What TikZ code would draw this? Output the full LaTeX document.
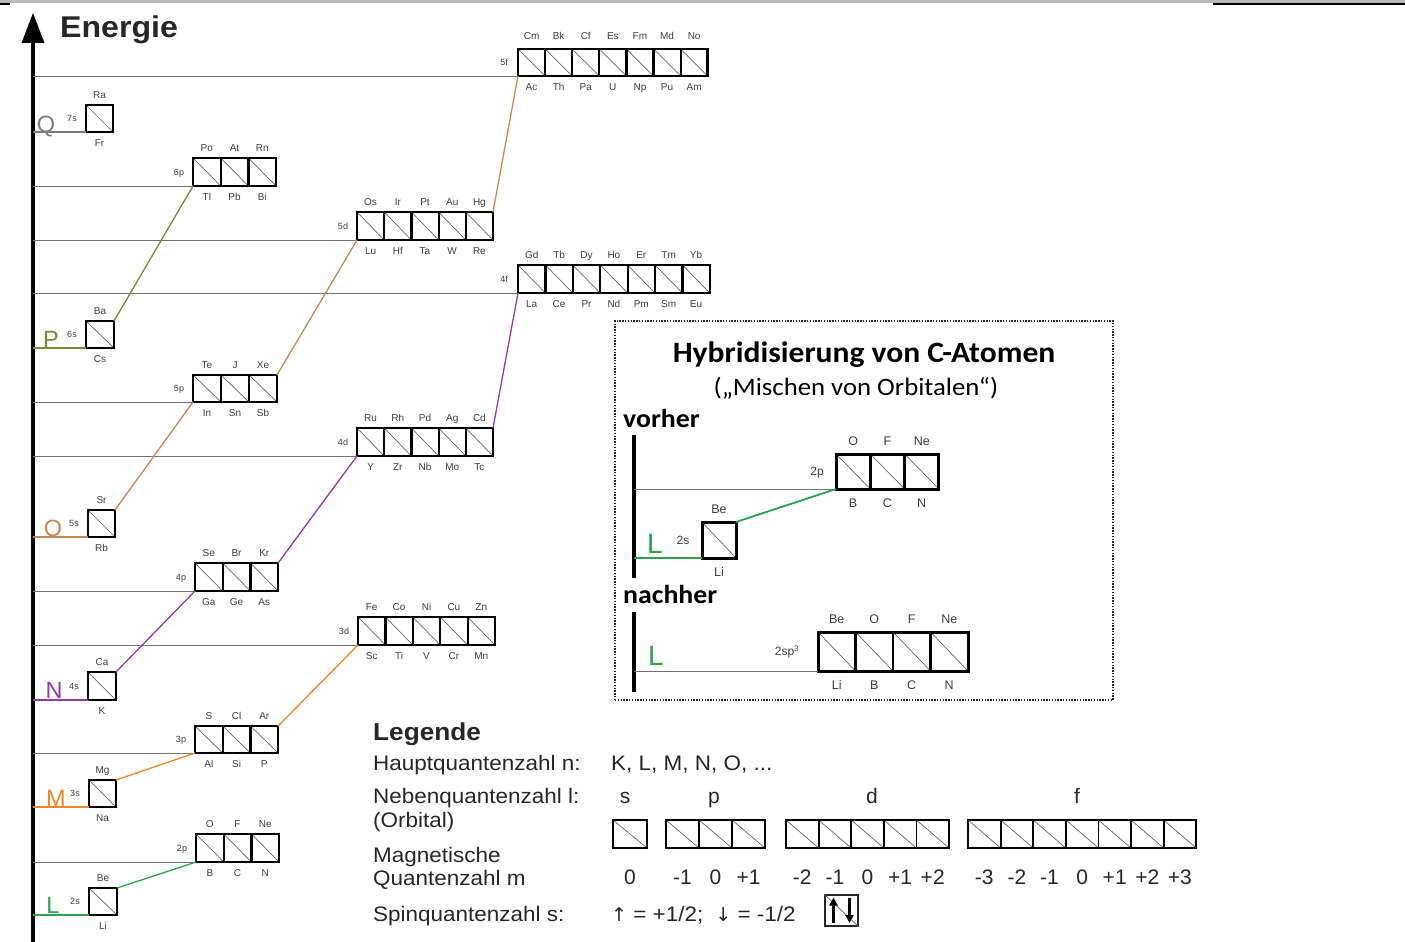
\documentclass[tikz,border=0pt]{standalone}
\usepackage{fontspec}
\setmainfont{Liberation Sans}
\newfontfamily\calib{Carlito}
\newfontfamily\dejavu{DejaVu Sans}
\usetikzlibrary{calc,arrows.meta}
\definecolor{lgreen}{RGB}{45,160,75}
\definecolor{morange}{RGB}{238,135,40}
\definecolor{npurple}{RGB}{145,60,165}
\definecolor{otan}{RGB}{200,135,85}
\definecolor{polive}{RGB}{115,140,45}
\definecolor{qgray}{RGB}{125,125,125}
\definecolor{hgray}{RGB}{185,185,185}
\definecolor{labgray}{RGB}{60,60,60}
\newcommand\wx[1]{\scalebox{1.07}[1]{#1}}
\def\tgap{10.5}\def\bgap{10.5}\def\sgap{14}
\tikzset{
 diag/.style={draw=black!60, line width=0.7pt},
 cellsep/.style={draw=black, line width=2.2pt},
 orbframe/.style={draw=black, line width=2.6pt, inner sep=0pt, outer sep=0pt, rectangle},
 elab/.style={font=\fontsize{10}{12}\selectfont, text=labgray, inner sep=0pt, text height=7.2pt, text depth=0pt},
 slab/.style={font=\fontsize{9}{11}\selectfont, text=labgray, inner sep=0pt, text height=6.5pt, text depth=0pt},
 lvl/.style={draw=black!55, line width=0.8pt},
 conn/.style={line width=1.3pt},
 shell/.style={font=\fontsize{23.5}{26}\selectfont, inner sep=0pt, anchor=base},
 legtxt/.style={font=\fontsize{21}{24}\selectfont, inner sep=0pt, anchor=base west, text=black!85},
 hshell/.style={font=\fontsize{28}{30}\selectfont, inner sep=0pt, anchor=base, text=lgreen},
}
% name, x-left, y-bottom, cells, cell width, height, top labels, bottom labels, side label
\newcommand\orbrow[9]{%
 \foreach \k in {1,...,#4}{\draw[diag] ({#2+(\k-1)*#5},{#3-#6}) -- ({#2+\k*#5},{#3});}
 \ifnum#4>1 \foreach \k in {2,...,#4}{\draw[cellsep] ({#2+(\k-1)*#5},{#3-#6}) -- ({#2+(\k-1)*#5},{#3});}\fi
 \node[orbframe, minimum width={#4*#5}, minimum height={#6}, anchor=south west] (#1) at (#2,#3) {};
 \foreach \lab [count=\k] in {#7}{\node[elab] (#1t\k) at ({#2+(\k-0.5)*#5},{#3-#6-\tgap}) {\lab};}
 \foreach \lab [count=\k] in {#8}{\node[elab] (#1b\k) at ({#2+(\k-0.5)*#5},{#3+\bgap}) {\lab};}
 \node[slab] (#1l) at ({#2-\sgap},{#3-#6/2}) {#9};
}
\begin{document}
\begin{tikzpicture}[x=1pt,y=-1pt]
\useasboundingbox (0,0) rectangle (1405,942);
% header strip
\fill[hgray] (0,0) rectangle (1405,3);
\fill[black] (0,3) rectangle (10,5);
\fill[black] (1213,3) rectangle (1405,5);
% axis
\coordinate (axtop) at (33,40);
\coordinate (axbot) at (33,942);
\draw[line width=3.3pt] (axbot) -- (axtop);
\fill[black] (33,13) -- (21.5,43) -- (44.5,43) -- cycle;
\node[font=\bfseries\fontsize{30}{32}\selectfont, anchor=base west, inner sep=0pt, text=black!85] (energie) at (60,38) {\wx{Energie}};
% axis coordinates of the levels
\foreach \n/\y in {5f/76,7s/132,6p/186,5d/240,4f/293,6s/348,5p/402,4d/456,5s/537,4p/591,3d/645,4s/700,3p/753,3s/807,2p/862,2s/915}{\coordinate (a\n) at (33,\y);}
% orbital boxes
{\def\tgap{13}\orbrow{b5f}{518}{76}{7}{27.1}{27}{Cm,Bk,Cf,Es,Fm,Md,No}{Ac,Th,Pa,U,Np,Pu,Am}{5f}}
\orbrow{b7s}{86}{132}{1}{27}{27}{Ra}{Fr}{7s}
\orbrow{b6p}{193}{186}{3}{27.7}{28}{Po,At,Rn}{Tl,Pb,Bi}{6p}
\orbrow{b5d}{357}{240}{5}{27.2}{28}{Os,Ir,Pt,Au,Hg}{Lu,Hf,Ta,W,Re}{5d}
\orbrow{b4f}{518}{293}{7}{27.4}{28}{Gd,Tb,Dy,Ho,Er,Tm,Yb}{La,Ce,Pr,Nd,Pm,Sm,Eu}{4f}
\orbrow{b6s}{86}{348}{1}{28}{27}{Ba}{Cs}{6s}
\orbrow{b5p}{193}{402}{3}{28}{27}{Te,J,Xe}{In,Sn,Sb}{5p}
\orbrow{b4d}{357}{456}{5}{27.2}{28}{Ru,Rh,Pd,Ag,Cd}{Y,Zr,Nb,Mo,Tc}{4d}
\orbrow{b5s}{88}{537}{1}{27}{27}{Sr}{Rb}{5s}
\orbrow{b4p}{195}{591}{3}{27.7}{28}{Se,Br,Kr}{Ga,Ge,As}{4p}
\orbrow{b3d}{358}{645}{5}{27.4}{28}{Fe,Co,Ni,Cu,Zn}{Sc,Ti,V,Cr,Mn}{3d}
\orbrow{b4s}{88}{700}{1}{28}{28}{Ca}{K}{4s}
\orbrow{b3p}{195}{753}{3}{27.7}{27}{S,Cl,Ar}{Al,Si,P}{3p}
\orbrow{b3s}{89}{807}{1}{27}{27}{Mg}{Na}{3s}
\orbrow{b2p}{196}{862}{3}{27.7}{28}{O,F,Ne}{B,C,N}{2p}
\orbrow{b2s}{89}{915}{1}{28}{27}{Be}{Li}{2s}
% gray level lines to boxes
\foreach \n in {5f,6p,5d,4f,5p,4d,4p,3d,3p,2p}{\draw[lvl] (a\n) -- (b\n.south west);}
% coloured s-levels
\draw[conn, qgray] (a7s) -- (b7s.south west);
\draw[conn, polive] (a6s) -- (b6s.south west);
\draw[conn, otan] (a5s) -- (b5s.south west);
\draw[conn, npurple] (a4s) -- (b4s.south west);
\draw[conn, morange] (a3s) -- (b3s.south west);
\draw[conn, lgreen] (a2s) -- (b2s.south west);
% shell letters
\node[shell, text=qgray] (shQ) at (46,132) {Q};
\node[shell, text=polive] (shP) at (51,347) {P};
\node[shell, text=otan] (shO) at (53,536) {O};
\node[shell, text=npurple] (shN) at (54,698) {N};
\node[shell, text=morange] (shM) at (56,806) {M};
\node[shell, text=lgreen] (shL) at (53,913) {L};
% connectors
\draw[conn, lgreen] (b2s.north east) -- (b2p.south west);
\draw[conn, morange] (b3s.north east) -- (b3p.south west);
\draw[conn, morange] (b3p.north east) -- (b3d.south west);
\draw[conn, npurple] (b4s.north east) -- (b4p.south west);
\draw[conn, npurple] (b4p.north east) -- (b4d.south west);
\draw[conn, npurple] (b4d.north east) -- (b4f.south west);
\draw[conn, otan] (b5s.north east) -- (b5p.south west);
\draw[conn, otan] (b5p.north east) -- (b5d.south west);
\draw[conn, otan] (b5d.north east) -- (b5f.south west);
\draw[conn, polive] (b6s.north east) -- (b6p.south west);
% ---------- Hybridisierung box ----------
\node[draw=black!85, line width=1.4pt, dash pattern=on 1.4pt off 1.4pt, minimum width=498, minimum height=379, inner sep=0pt] (hybox) at (864,510.5) {};
\node[font=\calib\bfseries\fontsize{29.5}{32}\selectfont, anchor=base, inner sep=0pt] (htitle) at (864,362) {\wx{Hybridisierung von C-Atomen}};
\node[font=\calib\fontsize{25}{28}\selectfont, anchor=base, inner sep=0pt] (hsub) at (856,395) {\wx{(„Mischen von Orbitalen“)}};
\node[font=\calib\bfseries\fontsize{26}{30}\selectfont, anchor=base west, inner sep=0pt] (hvor) at (623,427) {\wx{vorher}};
\node[font=\calib\bfseries\fontsize{26}{30}\selectfont, anchor=base west, inner sep=0pt] (hnach) at (623,603) {\wx{nachher}};
\coordinate (hv1t) at (634,435); \coordinate (hv1b) at (634,578);
\coordinate (hv2t) at (634,612); \coordinate (hv2b) at (634,692);
\draw[line width=4pt] (hv1t) -- (hv1b);
\draw[line width=4pt] (hv2t) -- (hv2b);
\coordinate (ha2p) at (634,489); \coordinate (ha2s) at (634,558); \coordinate (ha2sp) at (634,671);
\begin{scope}
\def\tgap{13}\def\bgap{14}\def\sgap{19}
\tikzset{elab/.style={font=\fontsize{12.5}{14}\selectfont, text=labgray, inner sep=0pt, text height=9pt, text depth=0pt},
 slab/.style={font=\fontsize{12}{14}\selectfont, text=labgray, inner sep=0pt, text height=8.6pt, text depth=0pt},
 orbframe/.style={draw=black, line width=3pt, inner sep=0pt, outer sep=0pt, rectangle},
 cellsep/.style={draw=black, line width=2.6pt}}
\orbrow{h2p}{836}{489}{3}{34.3}{35}{O,F,Ne}{B,C,N}{2p}
\orbrow{h2s}{702}{558}{1}{34}{36}{Be}{Li}{2s}
\def\sgap{31}
\orbrow{h2sp}{818}{671}{4}{37.5}{39}{Be,O,F,Ne}{Li,B,C,N}{2sp\textsuperscript{3}}
\end{scope}
\draw[lvl] (ha2p) -- (h2p.south west);
\draw[lvl] (ha2sp) -- (h2sp.south west);
\draw[conn, lgreen, line width=1.8pt] (ha2s) -- (h2s.south west);
\draw[conn, lgreen, line width=1.8pt] (h2s.north east) -- (h2p.south west);
\node[hshell] (hL1) at (655,553) {L};
\node[hshell] (hL2) at (656,665) {L};
% ---------- Legende ----------
\node[font=\bfseries\fontsize{24.5}{28}\selectfont, anchor=base west, inner sep=0pt, text=black!85] (leg) at (373,740) {\wx{Legende}};
\node[legtxt] (lg1) at (373,770) {\wx{Hauptquantenzahl n:}};
\node[legtxt] (lg1v) at (611,770) {\wx{K, L, M, N, O, ...}};
\node[legtxt] (lg2) at (373,803) {\wx{Nebenquantenzahl l:}};
\node[legtxt] (lg3) at (373,827) {\wx{(Orbital)}};
\node[legtxt] (lg4) at (373,862) {\wx{Magnetische}};
\node[legtxt] (lg5) at (373,885) {\wx{Quantenzahl m}};
\node[legtxt] (lg6) at (373,921) {\wx{Spinquantenzahl s:}};
\node[legtxt, anchor=base] (lgs) at (625,803) {s};
\node[legtxt, anchor=base] (lgp) at (714,803) {p};
\node[legtxt, anchor=base] (lgd) at (872,803) {d};
\node[legtxt, anchor=base] (lgf) at (1077,803) {f};
\begin{scope}
\def\bgap{29}
\tikzset{elab/.style={font=\fontsize{21}{24}\selectfont, text=black!85, inner sep=0pt, text height=15pt, text depth=0pt},
 orbframe/.style={draw=black, line width=2pt, inner sep=0pt, outer sep=0pt, rectangle},
 cellsep/.style={draw=black, line width=1.8pt}}
\orbrow{ls}{613}{848}{1}{34}{28}{}{0}{}
\orbrow{lp}{666}{848}{3}{33}{28}{}{-1,0,+1}{}
\orbrow{ld}{786}{848}{5}{32.6}{28}{}{-2,-1,0,+1,+2}{}
\orbrow{lf}{968}{848}{7}{32.6}{28}{}{-3,-2,-1,0,+1,+2,+3}{}
\end{scope}
\node[legtxt] (lgspin) at (611,921) {{\dejavu\fontsize{19}{22}\selectfont ↑}\wx{ = +1/2;}\hspace{12pt}{\dejavu\fontsize{19}{22}\selectfont ↓}\wx{ = -1/2}};
\node[draw=black!85, line width=1.8pt, minimum width=33, minimum height=31, inner sep=0pt] (spin) at (841.5,910.5) {};
\draw[diag] (spin.north west) -- (spin.south east);
\draw[line width=2.6pt, -{Triangle[width=8pt,length=8pt]}] (833.5,923) -- (833.5,897.5);
\draw[line width=2.6pt, -{Triangle[width=8pt,length=8pt]}] (849.5,897.5) -- (849.5,923);
\end{tikzpicture}
\end{document}
